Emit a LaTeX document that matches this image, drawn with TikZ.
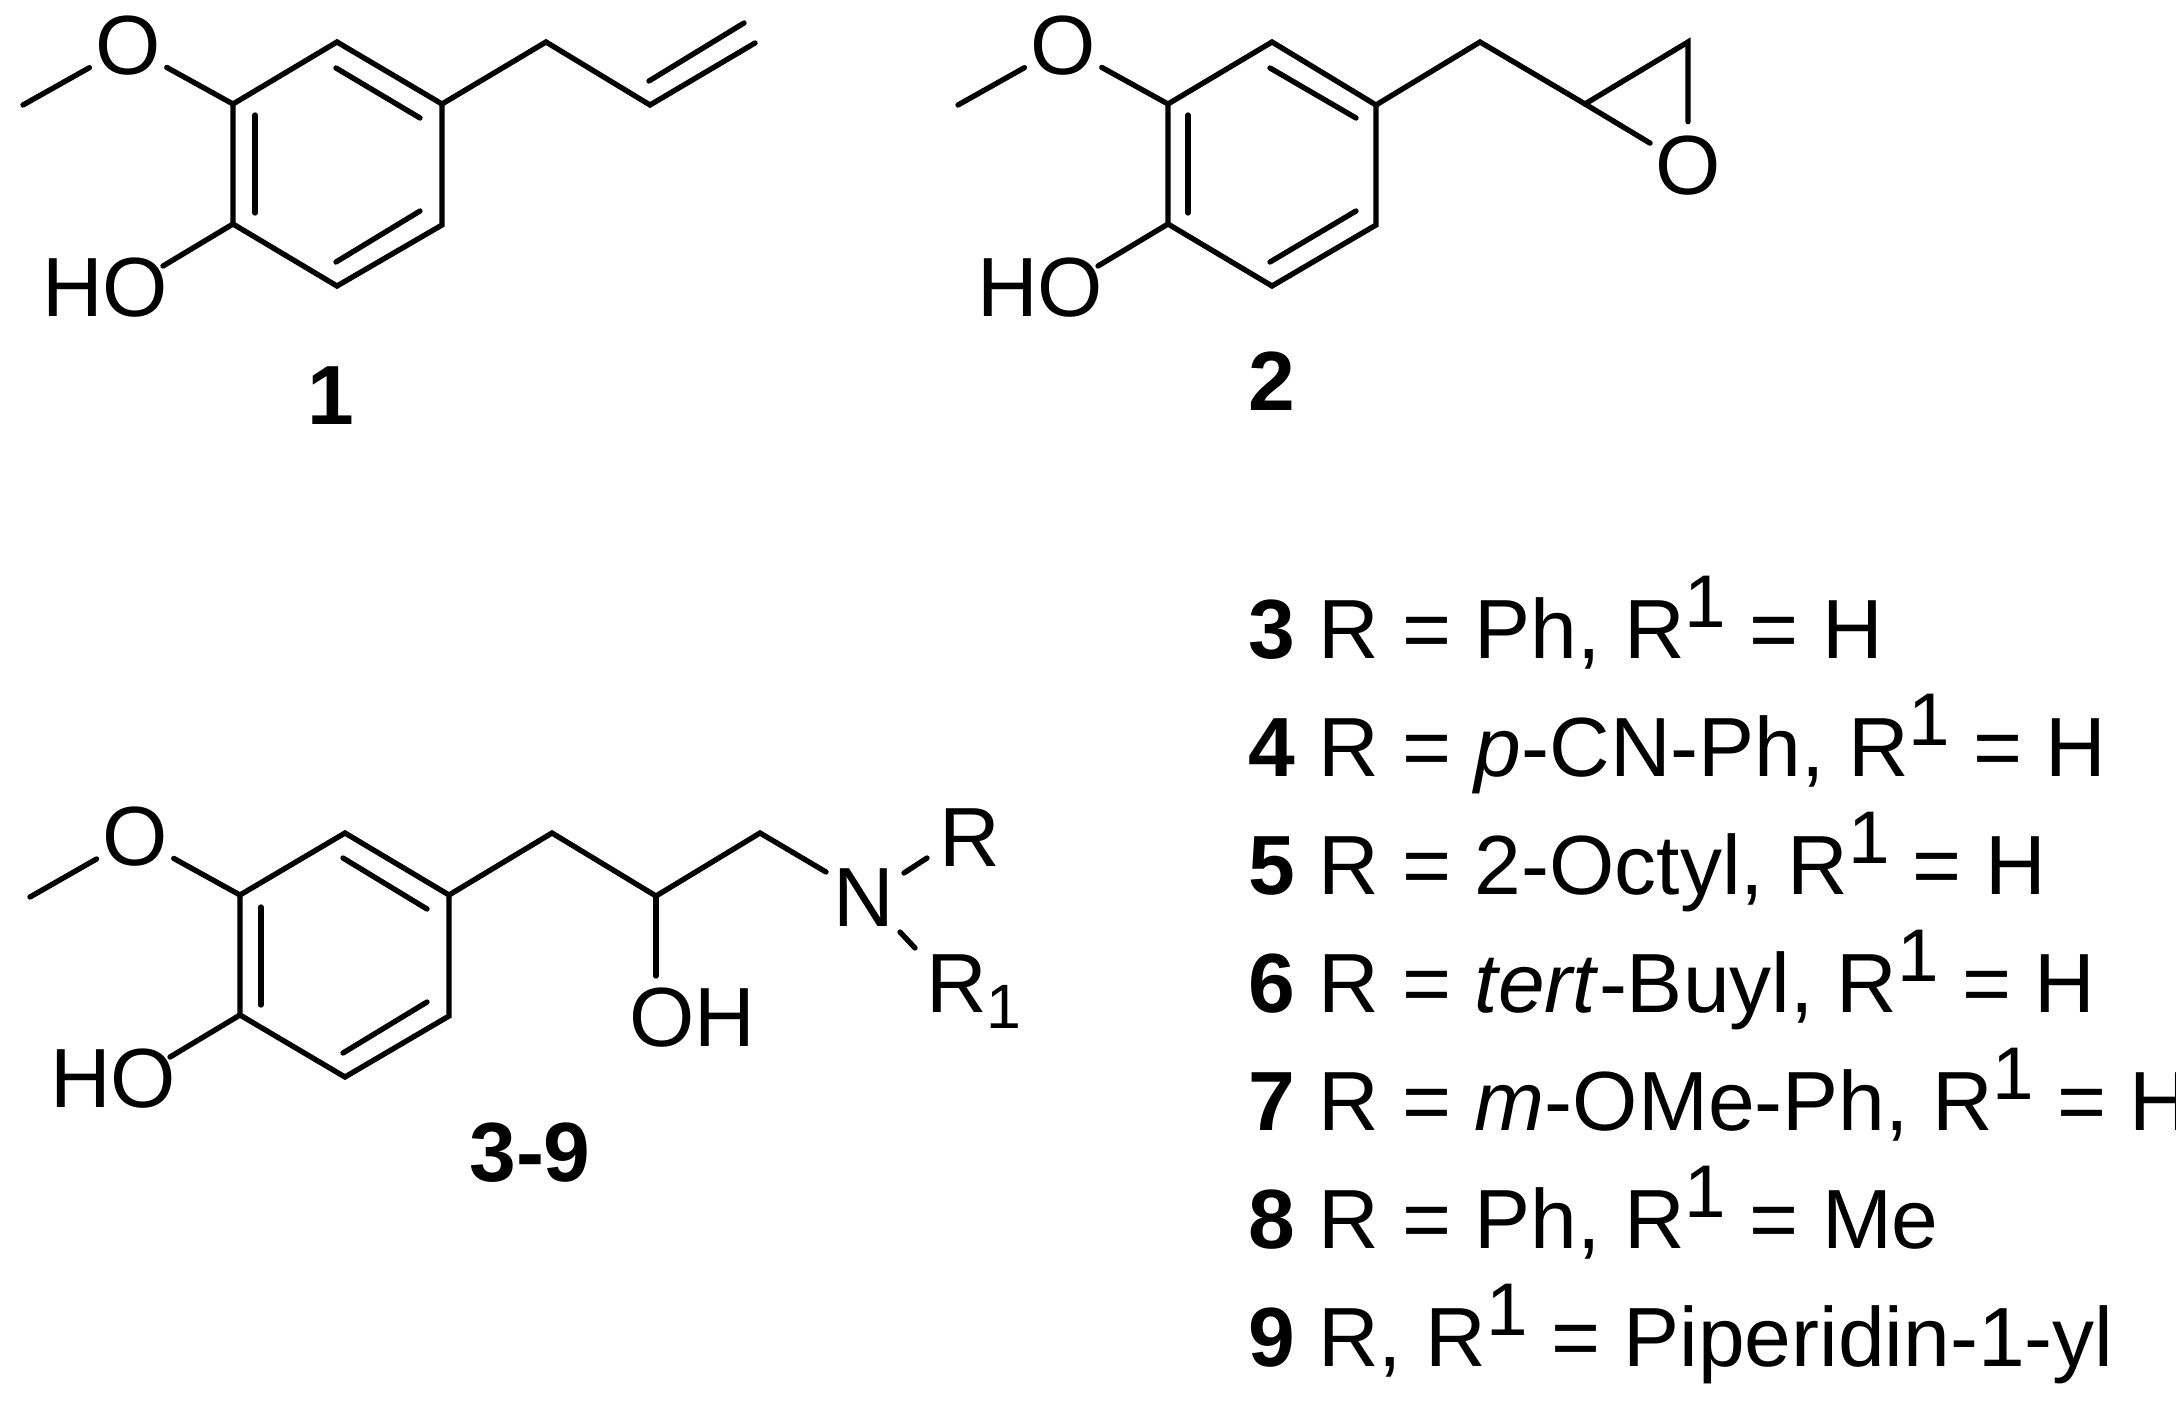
\documentclass[tikz,border=0pt]{standalone}
\usepackage{fontspec}
\setmainfont{Liberation Sans}
\newcommand{\supone}{\raisebox{0.36em}{\fontsize{56}{60}\selectfont 1}}
\newcommand{\subone}{\raisebox{-0.2em}{\fontsize{47}{50}\selectfont 1}}
\tikzset{
  bond/.style={line width=4pt, line join=miter, line cap=round},
  atom/.style={circle, inner sep=0pt, minimum size=62pt, font=\fontsize{63}{70}\selectfont},
  group/.style={inner sep=0pt, font=\fontsize{63}{70}\selectfont},
  compound/.style={inner sep=0pt, font=\fontsize{63}{70}\selectfont\bfseries},
  entry/.style={inner sep=0pt, anchor=base west, font=\fontsize{63}{70}\selectfont}
}
\begin{document}
\begin{tikzpicture}[x=0.75pt, y=-0.75pt]
\useasboundingbox (0,0) rectangle (2176,1409);
% eugenol
\coordinate (aTop) at (337,42);
\coordinate (aRT) at (442,104);
\coordinate (aRB) at (442,225);
\coordinate (aBot) at (337,286);
\coordinate (aLB) at (233,224);
\coordinate (aLT) at (233,104);
\coordinate (aMe) at (23,105);
\coordinate (aC1) at (546,42);
\coordinate (aC2) at (650,105);
\coordinate (aC3) at (755,43);
\coordinate (aHOend) at (163,266);
\node[atom] (aO) at (128,46) {O};
\node[group, anchor=west] (aHO) at (42,288) {HO};
\draw[bond] (aTop) -- (aRT) -- (aRB) -- (aBot) -- (aLB) -- (aLT) -- cycle;
\draw[bond] (aMe) -- (aO);
\draw[bond] (aLT) -- (aO);
\draw[bond] (aLB) -- (aHOend);
\draw[bond] (aRT) -- (aC1) -- (aC2) -- (aC3);
\draw[bond] (649,81) -- (744,23);
\draw[bond] (336,68) -- (420,118);
\draw[bond] (255,115) -- (255,213);
\draw[bond] (336,262) -- (420,211);
\node[compound] (lab1) at (331,396) {1};
% epoxide
\coordinate (bTop) at (1272,42);
\coordinate (bRT) at (1376,105);
\coordinate (bRB) at (1376,225);
\coordinate (bBot) at (1272,286);
\coordinate (bLB) at (1168,224);
\coordinate (bLT) at (1168,104);
\coordinate (bMe) at (958,105);
\coordinate (bC1) at (1480,42);
\coordinate (bC2) at (1585,104);
\coordinate (bC3) at (1688,42);
\coordinate (bHOend) at (1098,266);
\node[atom] (bO) at (1063,46) {O};
\node[atom] (bOx) at (1688,166) {O};
\node[group, anchor=west] (bHO) at (977,288) {HO};
\draw[bond] (bTop) -- (bRT) -- (bRB) -- (bBot) -- (bLB) -- (bLT) -- cycle;
\draw[bond] (bMe) -- (bO);
\draw[bond] (bLT) -- (bO);
\draw[bond] (bLB) -- (bHOend);
\draw[bond] (bRT) -- (bC1) -- (bC2);
\draw[bond] (bC2) -- (bC3) -- (bOx);
\draw[bond] (bC2) -- (bOx);
\draw[bond] (1270,68) -- (1356,118);
\draw[bond] (1188,115) -- (1188,213);
\draw[bond] (1270,262) -- (1356,211);
\node[compound] (lab2) at (1272,381) {2};
% amino alcohol
\coordinate (cTop) at (345,833);
\coordinate (cRT) at (449,895);
\coordinate (cRB) at (449,1016);
\coordinate (cBot) at (345,1077);
\coordinate (cLB) at (240,1015);
\coordinate (cLT) at (240,895);
\coordinate (cMe) at (30,897);
\coordinate (cC1) at (552,833);
\coordinate (cC2) at (656,896);
\coordinate (cC3) at (760,833);
\coordinate (cHOend) at (170,1057);
\node[atom] (cO) at (135,837) {O};
\node[group, anchor=west] (cHO) at (50,1079) {HO};
\node[group, anchor=west] (cOH) at (629,1018) {OH};
\node[group] (cN) at (864,898) {N};
\node[group] (cR) at (970,838) {R};
\node[group, anchor=base west] (cRone) at (926,1012) {R\subone};
\draw[bond] (cTop) -- (cRT) -- (cRB) -- (cBot) -- (cLB) -- (cLT) -- cycle;
\draw[bond] (cMe) -- (cO);
\draw[bond] (cLT) -- (cO);
\draw[bond] (cLB) -- (cHOend);
\draw[bond] (cRT) -- (cC1) -- (cC2) -- (cC3) -- (826,872);
\draw[bond] (cC2) -- (656,976);
\draw[bond] (904,873) -- (927,858);
\draw[bond] (900,932) -- (915,948);
\draw[bond] (343,858) -- (427,909);
\draw[bond] (261,907) -- (261,1005);
\draw[bond] (343,1053) -- (427,1002);
\node[compound] (lab3) at (530,1153) {3-9};
% list of substituents
\node[entry] (line3) at (1248,658) {\textbf{3} R = Ph, R\supone{} = H};
\node[entry] (line4) at (1248,776) {\textbf{4} R = \textit{p}-CN-Ph, R\supone{} = H};
\node[entry] (line5) at (1248,894) {\textbf{5} R = 2-Octyl, R\supone{} = H};
\node[entry] (line6) at (1248,1012) {\textbf{6} R = \textit{tert}-Buyl, R\supone{} = H};
\node[entry] (line7) at (1248,1130) {\textbf{7} R = \textit{m}-OMe-Ph, R\supone{} = H};
\node[entry] (line8) at (1248,1248) {\textbf{8} R = Ph, R\supone{} = Me};
\node[entry] (line9) at (1248,1366) {\textbf{9} R, R\supone{} = Piperidin-1-yl};
\end{tikzpicture}
\end{document}
